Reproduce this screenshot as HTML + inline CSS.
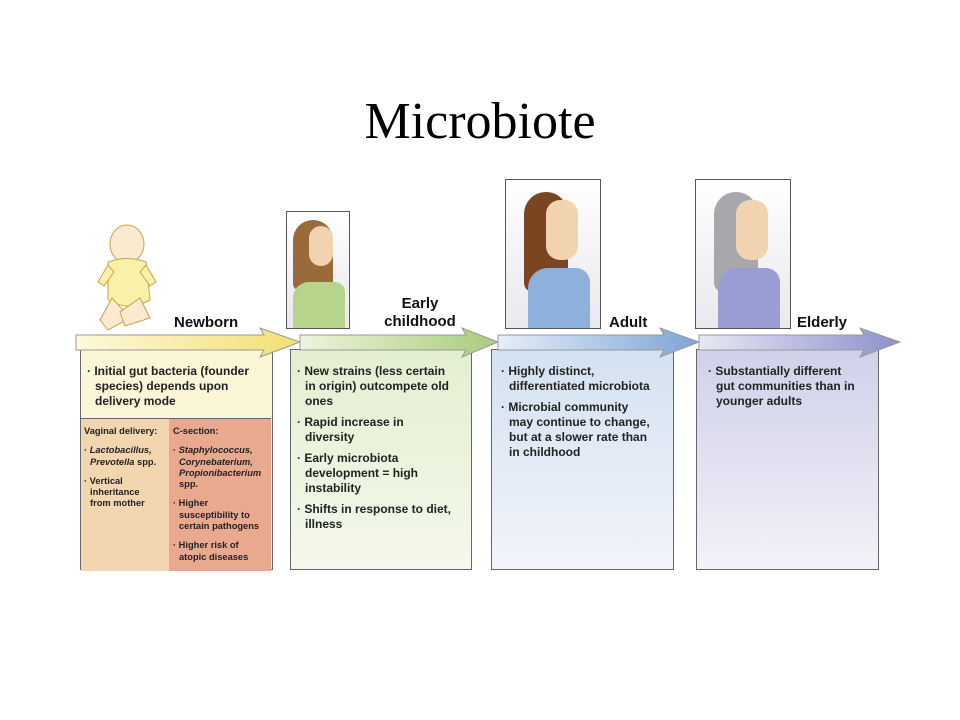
<!DOCTYPE html>
<html><head><meta charset="utf-8"><style>
body{margin:0;width:960px;height:720px;background:#fff;position:relative;overflow:hidden;font-family:"Liberation Sans",sans-serif}
.t{position:absolute;left:0;width:960px;top:92px;text-align:center;font-family:"Liberation Serif",serif;font-size:52px;color:#000}
.box{position:absolute;border:1.5px solid #666;box-sizing:border-box}
.tx{position:absolute;font-weight:bold;font-size:12px;line-height:15px;color:#222;white-space:nowrap}
.tx p{margin:0 0 6px 0;padding-left:8px;text-indent:-8px}
.sm{font-size:9.3px;line-height:11.3px}
.sm p{margin:0 0 8px 0;padding-left:6px;text-indent:-6px}
.lb{position:absolute;font-weight:bold;font-size:15px;line-height:18px;color:#111}
.fr{position:absolute;border:1.5px solid #555;background:linear-gradient(#fff,#e8e8ee);box-sizing:border-box;overflow:hidden}
</style></head><body>
<div class="t">Microbiote</div>

<div class="box" style="left:80px;top:349px;width:193px;height:221px;background:#fbf6d6">
 <div style="position:absolute;left:0;top:68px;width:88px;height:152px;background:#f2d6b0;border-top:1.5px solid #666;border-right:1.5px solid #666"></div>
 <div style="position:absolute;left:88px;top:68px;width:102px;height:152px;background:#e8a98f;border-top:1.5px solid #666"></div>
</div>
<div class="box" style="left:290px;top:349px;width:182px;height:221px;background:linear-gradient(#e3efd0,#f4f8ec)"></div>
<div class="box" style="left:491px;top:349px;width:183px;height:221px;background:linear-gradient(#d4e1f1,#f1f4fa)"></div>
<div class="box" style="left:696px;top:349px;width:183px;height:221px;background:linear-gradient(#d0d0ea,#f2f2f8)"></div>

<svg style="position:absolute;left:0;top:0" width="960" height="720">
<defs>
<linearGradient id="g1"><stop offset="0" stop-color="#fdf8dc"/><stop offset="1" stop-color="#f2e070"/></linearGradient>
<linearGradient id="g2"><stop offset="0" stop-color="#eef4dc"/><stop offset="1" stop-color="#a8cc7c"/></linearGradient>
<linearGradient id="g3"><stop offset="0" stop-color="#e6eef8"/><stop offset="1" stop-color="#7ca4d4"/></linearGradient>
<linearGradient id="g4"><stop offset="0" stop-color="#e8e8f4"/><stop offset="1" stop-color="#8c90cc"/></linearGradient>
</defs>
<g stroke="#999" stroke-width="1">
<polygon points="76,335 264,335 260,328 300,342 260,357 264,350 76,350" fill="url(#g1)"/>
<polygon points="300,335 466,335 462,328 498,342 462,357 466,350 300,350" fill="url(#g2)"/>
<polygon points="498,335 664,335 660,328 699,342 660,357 664,350 498,350" fill="url(#g3)"/>
<polygon points="699,335 864,335 860,328 900,342 860,357 864,350 699,350" fill="url(#g4)"/>
</g>
<g stroke="#c9a34a" stroke-width="1" fill="#fbf0a8">
<ellipse cx="127" cy="244" rx="17" ry="19" fill="#fbe9d0"/>
<path d="M108 262 Q127 255 146 262 L150 300 Q128 312 108 300 Z"/>
<path d="M108 265 L98 282 L104 286 L114 272Z"/><path d="M146 265 L156 282 L150 286 L140 272Z"/>
<path d="M112 298 L100 320 L108 330 L130 318Z" fill="#fbe9d0"/><path d="M140 298 L150 318 L125 326 L120 312Z" fill="#fbe9d0"/>
</g>
</svg>

<div class="fr" style="left:286px;top:211px;width:64px;height:118px">
 <div style="position:absolute;left:6px;top:8px;width:40px;height:70px;background:#9a6a3a;border-radius:20px 20px 6px 6px"></div>
 <div style="position:absolute;left:22px;top:14px;width:24px;height:40px;background:#f1d3b0;border-radius:12px"></div>
 <div style="position:absolute;left:6px;top:70px;width:52px;height:50px;background:#b6d48a;border-radius:16px 10px 0 0"></div>
</div>
<div class="fr" style="left:505px;top:179px;width:96px;height:150px">
 <div style="position:absolute;left:18px;top:12px;width:44px;height:100px;background:#7a4520;border-radius:24px 24px 10px 10px"></div>
 <div style="position:absolute;left:40px;top:20px;width:32px;height:60px;background:#f1d3b0;border-radius:14px"></div>
 <div style="position:absolute;left:22px;top:88px;width:62px;height:62px;background:#8eb0dc;border-radius:20px 14px 0 0"></div>
</div>
<div class="fr" style="left:695px;top:179px;width:96px;height:150px">
 <div style="position:absolute;left:18px;top:12px;width:44px;height:100px;background:#a8a8ac;border-radius:24px 24px 10px 10px"></div>
 <div style="position:absolute;left:40px;top:20px;width:32px;height:60px;background:#f1d3b0;border-radius:14px"></div>
 <div style="position:absolute;left:22px;top:88px;width:62px;height:62px;background:#9a9cd4;border-radius:20px 14px 0 0"></div>
</div>

<div class="lb" style="left:174px;top:314px">Newborn</div>
<div class="lb" style="left:370px;top:295px;width:100px;text-align:center">Early<br>childhood</div>
<div class="lb" style="left:609px;top:314px">Adult</div>
<div class="lb" style="left:797px;top:314px">Elderly</div>

<div class="tx" style="left:87px;top:364px"><p>· Initial gut bacteria (founder<br>species) depends upon<br>delivery mode</p></div>
<div class="tx sm" style="left:84px;top:426px"><p>Vaginal delivery:</p><p>· <i>Lactobacillus,</i><br><i>Prevotella</i> spp.</p><p>· Vertical<br>inheritance<br>from mother</p></div>
<div class="tx sm" style="left:173px;top:426px"><p>C-section:</p><p>· <i>Staphylococcus,</i><br><i>Corynebaterium,</i><br><i>Propionibacterium</i><br>spp.</p><p>· Higher<br>susceptibility to<br>certain pathogens</p><p>· Higher risk of<br>atopic diseases</p></div>
<div class="tx" style="left:297px;top:364px"><p>· New strains (less certain<br>in origin) outcompete old<br>ones</p><p>· Rapid increase in<br>diversity</p><p>· Early microbiota<br>development = high<br>instability</p><p>· Shifts in response to diet,<br>illness</p></div>
<div class="tx" style="left:501px;top:364px"><p>· Highly distinct,<br>differentiated microbiota</p><p>· Microbial community<br>may continue to change,<br>but at a slower rate than<br>in childhood</p></div>
<div class="tx" style="left:708px;top:364px"><p>· Substantially different<br>gut communities than in<br>younger adults</p></div>
</body></html>
